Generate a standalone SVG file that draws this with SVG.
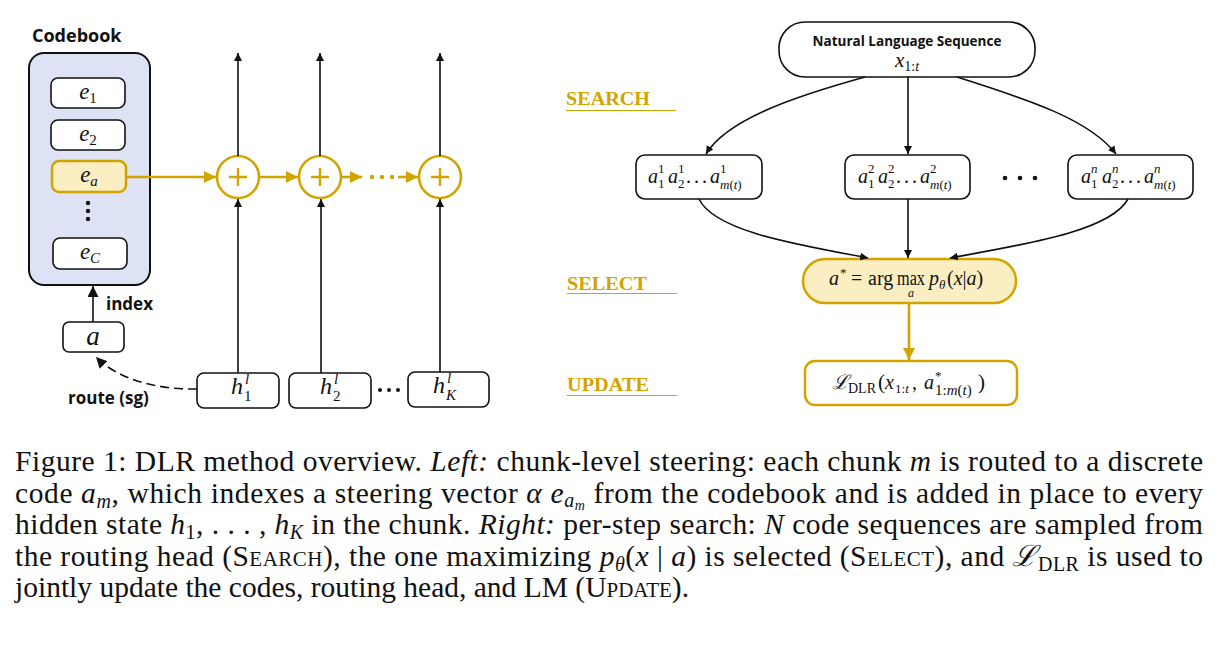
<svg xmlns="http://www.w3.org/2000/svg" width="1220" height="654" viewBox="0 0 1220 654">
<style>
.bx{fill:#fff;stroke:#111;stroke-width:1.6}
.gbx{stroke:#d1a400;stroke-width:2.5}
.ln{fill:none;stroke:#111;stroke-width:1.6}
.gln{fill:none;stroke:#d1a400;stroke-width:2.6}
.m{font-family:"Liberation Serif","DejaVu Serif",serif;fill:#111}
.i{font-style:italic}
.sans{font-family:"Open Sans","Liberation Sans",sans-serif;font-weight:700;fill:#111}
.lab{font-family:"Liberation Serif",serif;font-weight:700;fill:#d1a400;font-size:19px}
.cap{font-family:"Liberation Serif","DejaVu Serif",serif;font-size:29.5px;fill:#111}
</style>
<defs>
<marker id="ab" viewBox="0 0 10 10" refX="10" refY="5" markerWidth="8" markerHeight="8" orient="auto" markerUnits="userSpaceOnUse"><path d="M0,0 L10,5 L0,10 z" fill="#111"/></marker>
<marker id="abk" viewBox="0 0 10 10" refX="10" refY="5" markerWidth="11" markerHeight="11" orient="auto" markerUnits="userSpaceOnUse"><path d="M0,0 L10,5 L0,10 z" fill="#111"/></marker>
<marker id="ag" viewBox="0 0 10 10" refX="10" refY="5" markerWidth="12" markerHeight="12" orient="auto" markerUnits="userSpaceOnUse"><path d="M0,0 L10,5 L0,10 z" fill="#d1a400"/></marker>
</defs>

<!-- Left: codebook -->
<g id="codebook">
<text class="sans" x="32" y="42" font-size="18">Codebook</text>
<rect x="29" y="53" width="121" height="232" rx="15" fill="#dde2f5" stroke="#111" stroke-width="2"/>
</g>
<g id="e1"><rect class="bx" x="51" y="78" width="74" height="30" rx="7"/>
<text class="m" x="88" y="99" text-anchor="middle" font-size="23"><tspan class="i">e</tspan><tspan font-size="15" dy="4">1</tspan></text></g>
<g id="e2"><rect class="bx" x="51" y="120" width="74" height="30" rx="7"/>
<text class="m" x="88" y="141" text-anchor="middle" font-size="23"><tspan class="i">e</tspan><tspan font-size="15" dy="4">2</tspan></text></g>
<g id="ea"><rect class="gbx" x="52" y="161" width="74" height="31" rx="7" fill="#fbeec2"/>
<text class="m" x="89" y="182" text-anchor="middle" font-size="23"><tspan class="i">e</tspan><tspan class="i" font-size="15" dy="4">a</tspan></text></g>
<g id="edots" fill="#111"><circle cx="88" cy="203" r="2.2"/><circle cx="88" cy="211" r="2.2"/><circle cx="88" cy="219" r="2.2"/></g>
<g id="eC"><rect class="bx" x="53" y="238" width="74" height="31" rx="7"/>
<text class="m" x="90" y="259" text-anchor="middle" font-size="23"><tspan class="i">e</tspan><tspan class="i" font-size="15" dy="4">C</tspan></text></g>

<g id="a-box"><rect class="bx" x="63" y="322" width="61" height="30" rx="6"/>
<text class="m i" x="93" y="345" text-anchor="middle" font-size="27">a</text></g>
<text class="sans" x="106" y="310" font-size="17">index</text>
<text class="sans" x="68" y="404" font-size="17">route (sg)</text>

<!-- adders -->
<g id="add1"><circle cx="238" cy="177" r="21" fill="#fff" stroke="#d1a400" stroke-width="2.6"/><path d="M229,177 H247 M238,168 V186" stroke="#d1a400" stroke-width="2.4"/></g>
<g id="add2"><circle cx="320" cy="177" r="21" fill="#fff" stroke="#d1a400" stroke-width="2.6"/><path d="M311,177 H329 M320,168 V186" stroke="#d1a400" stroke-width="2.4"/></g>
<g id="add3"><circle cx="440" cy="177" r="21" fill="#fff" stroke="#d1a400" stroke-width="2.6"/><path d="M431,177 H449 M440,168 V186" stroke="#d1a400" stroke-width="2.4"/></g>

<!-- hidden states -->
<g id="h1"><rect class="bx" x="197" y="373" width="82" height="35" rx="7"/>
<text class="m i" x="231" y="394" font-size="24">h</text><text class="m i" x="245" y="384" font-size="15">l</text><text class="m" x="244" y="401" font-size="15">1</text></g>
<g id="h2"><rect class="bx" x="289" y="373" width="82" height="35" rx="7"/>
<text class="m i" x="320" y="394" font-size="24">h</text><text class="m i" x="334" y="384" font-size="15">l</text><text class="m" x="333" y="401" font-size="15">2</text></g>
<g id="hK"><rect class="bx" x="408" y="372" width="81" height="35" rx="7"/>
<text class="m i" x="433" y="393" font-size="24">h</text><text class="m i" x="447" y="383" font-size="15">l</text><text class="m i" x="446" y="400" font-size="15">K</text></g>
<g id="hdots" fill="#111"><circle cx="380" cy="390" r="2"/><circle cx="389" cy="390" r="2"/><circle cx="398" cy="390" r="2"/></g>

<!-- Right -->
<g id="nls"><rect class="bx" x="779" y="22" width="256" height="55" rx="26"/>
<text class="sans" x="907" y="46" text-anchor="middle" font-size="13.5">Natural Language Sequence</text>
<text class="m" x="907" y="67" text-anchor="middle" font-size="21"><tspan class="i">x</tspan><tspan font-size="14" dy="4">1:</tspan><tspan class="i" font-size="14">t</tspan></text></g>

<text class="lab" x="566" y="105" textLength="84" lengthAdjust="spacingAndGlyphs">SEARCH</text>
<text class="lab" x="567" y="290" textLength="80" lengthAdjust="spacingAndGlyphs">SELECT</text>
<text class="lab" x="567" y="391" textLength="82" lengthAdjust="spacingAndGlyphs">UPDATE</text>
<g stroke="#d1a400" stroke-width="1.2"><path d="M566,110.5 H676 M567,293.5 H677 M567,395.5 H677"/></g>

<g id="cand1"><rect class="bx" x="636" y="155" width="126" height="44" rx="9"/>
<g class="m" font-size="20"><text class="i" x="648" y="183">a</text><text x="658" y="173" font-size="13">1</text><text x="658" y="188" font-size="13">1</text>
<text class="i" x="668" y="183">a</text><text x="678" y="173" font-size="13">1</text><text x="678" y="188" font-size="13">2</text>
<text x="686" y="183" letter-spacing="3">...</text>
<text class="i" x="710" y="183">a</text><text x="720" y="173" font-size="13">1</text><text x="720" y="189" font-size="13"><tspan class="i">m</tspan>(<tspan class="i">t</tspan>)</text></g></g>
<g id="cand2"><rect class="bx" x="845" y="155" width="125" height="44" rx="9"/>
<g class="m" font-size="20"><text class="i" x="858" y="183">a</text><text x="868" y="173" font-size="13">2</text><text x="868" y="188" font-size="13">1</text>
<text class="i" x="878" y="183">a</text><text x="888" y="173" font-size="13">2</text><text x="888" y="188" font-size="13">2</text>
<text x="896" y="183" letter-spacing="3">...</text>
<text class="i" x="920" y="183">a</text><text x="930" y="173" font-size="13">2</text><text x="930" y="189" font-size="13"><tspan class="i">m</tspan>(<tspan class="i">t</tspan>)</text></g></g>
<g id="cand3"><rect class="bx" x="1068" y="155" width="125" height="44" rx="9"/>
<g class="m" font-size="20"><text class="i" x="1081" y="183">a</text><text class="i" x="1091" y="173" font-size="13">n</text><text x="1091" y="188" font-size="13">1</text>
<text class="i" x="1102" y="183">a</text><text class="i" x="1112" y="173" font-size="13">n</text><text x="1112" y="188" font-size="13">2</text>
<text x="1120" y="183" letter-spacing="3">...</text>
<text class="i" x="1144" y="183">a</text><text class="i" x="1154" y="173" font-size="13">n</text><text x="1154" y="189" font-size="13"><tspan class="i">m</tspan>(<tspan class="i">t</tspan>)</text></g></g>
<g id="cdots" fill="#111"><circle cx="1005" cy="178" r="2.3"/><circle cx="1020" cy="178" r="2.3"/><circle cx="1035" cy="178" r="2.3"/></g>

<g id="select"><rect class="gbx" x="803" y="259" width="213" height="44" rx="22" fill="#fbeec2"/>
<g class="m" font-size="20"><text class="i" x="829" y="285">a</text><text x="840" y="277" font-size="13">*</text>
<text x="851" y="285">=</text><text x="868" y="285">arg</text><text x="897" y="285" textLength="28" lengthAdjust="spacingAndGlyphs">max</text><text class="i" x="911" y="297" text-anchor="middle" font-size="12">a</text>
<text class="i" x="929" y="285">p</text><text class="i" x="939" y="289" font-size="13">θ</text>
<text x="947" y="285">(<tspan class="i">x</tspan>|<tspan class="i">a</tspan>)</text></g></g>

<g id="update"><rect class="gbx" x="805" y="361" width="212" height="44" rx="10" fill="#fff"/>
<g class="m" font-size="20"><text x="832" y="389" font-family="DejaVu Serif" font-style="italic">ℒ</text>
<text x="848" y="393" font-size="14">DLR</text>
<text x="878" y="389" font-size="21">(</text>
<text class="i" x="885" y="389">x</text><text x="895" y="393" font-size="13">1:<tspan class="i">t</tspan></text>
<text x="912" y="389">,</text>
<text class="i" x="924" y="389">a</text>
<text x="935" y="380" font-size="13">*</text>
<text x="935" y="395" font-size="15">1:<tspan class="i">m</tspan>(<tspan class="i">t</tspan>)</text>
<text x="978" y="389" font-size="21">)</text></g></g>

<!-- connectors -->
<g id="connectors">
<path class="gln" d="M126,177 H216" marker-end="url(#ag)"/>
<path class="gln" d="M259,177 H298" marker-end="url(#ag)"/>
<path class="gln" d="M341,177 H362" marker-end="url(#ag)"/>
<g fill="#d1a400"><circle cx="372" cy="177" r="2.2"/><circle cx="382" cy="177" r="2.2"/><circle cx="392" cy="177" r="2.2"/></g>
<path class="gln" d="M398,177 H418" marker-end="url(#ag)"/>
<path class="ln" stroke-width="2" d="M238,156 V53" marker-end="url(#ab)"/>
<path class="ln" stroke-width="2" d="M320,156 V53" marker-end="url(#ab)"/>
<path class="ln" stroke-width="2" d="M440,156 V53" marker-end="url(#ab)"/>
<path class="ln" stroke-width="2" d="M238,373 V199" marker-end="url(#ab)"/>
<path class="ln" stroke-width="2" d="M321,373 V199" marker-end="url(#ab)"/>
<path class="ln" stroke-width="2" d="M440,372 V199" marker-end="url(#ab)"/>
<path class="ln" stroke-width="3.2" d="M93,322 V286" marker-end="url(#abk)"/>
<path class="ln" stroke-width="3.2" stroke-dasharray="9,5" d="M197,389 C160,390 118,380 96,357" marker-end="url(#abk)"/>
<path class="ln" d="M865,77 C800,95 728,118 706,154" marker-end="url(#ab)"/>
<path class="ln" d="M908,77 V154" marker-end="url(#ab)"/>
<path class="ln" d="M957,77 C1030,100 1090,120 1116,154" marker-end="url(#ab)"/>
<path class="ln" d="M699,199 C715,232 800,245 868,258" marker-end="url(#ab)"/>
<path class="ln" d="M908,199 V258" marker-end="url(#ab)"/>
<path class="ln" d="M1128,199 C1110,232 1020,245 950,258" marker-end="url(#ab)"/>
<path class="gln" d="M909,304 V360" marker-end="url(#ag)"/>
</g>

<!-- caption -->
<g id="caption">
<text class="cap" x="15" y="471" textLength="1188" lengthAdjust="spacing">Figure 1: DLR method overview. <tspan class="i">Left:</tspan> chunk-level steering: each chunk <tspan class="i">m</tspan> is routed to a discrete</text>
<text class="cap" x="15" y="503" textLength="1188" lengthAdjust="spacing">code <tspan class="i">a</tspan><tspan class="i" font-size="20" dy="5">m</tspan><tspan dy="-5">, which indexes a steering vector </tspan><tspan class="i">α e</tspan><tspan class="i" font-size="20" dy="4">a</tspan><tspan class="i" font-size="14" dy="3">m</tspan><tspan dy="-7"> from the codebook and is added in place to every</tspan></text>
<text class="cap" x="15" y="534" textLength="1188" lengthAdjust="spacing">hidden state <tspan class="i">h</tspan><tspan font-size="20" dy="5">1</tspan><tspan dy="-5">, . . . , </tspan><tspan class="i">h</tspan><tspan class="i" font-size="20" dy="5">K</tspan><tspan dy="-5"> in the chunk. </tspan><tspan class="i">Right:</tspan> per-step search: <tspan class="i">N</tspan> code sequences are sampled from</text>
<text class="cap" x="15" y="566" textLength="1188" lengthAdjust="spacing">the routing head (<tspan font-variant="small-caps">Search</tspan>), the one maximizing <tspan class="i">p</tspan><tspan class="i" font-size="20" dy="5">θ</tspan><tspan dy="-5">(</tspan><tspan class="i">x</tspan> | <tspan class="i">a</tspan>) is selected (<tspan font-variant="small-caps">Select</tspan>), and <tspan font-family="DejaVu Serif" class="i">ℒ</tspan><tspan font-size="20" dy="5">DLR</tspan><tspan dy="-5"> is used to</tspan></text>
<text class="cap" x="15" y="597">jointly update the codes, routing head, and LM (<tspan font-variant="small-caps">Update</tspan>).</text>
</g>
</svg>
